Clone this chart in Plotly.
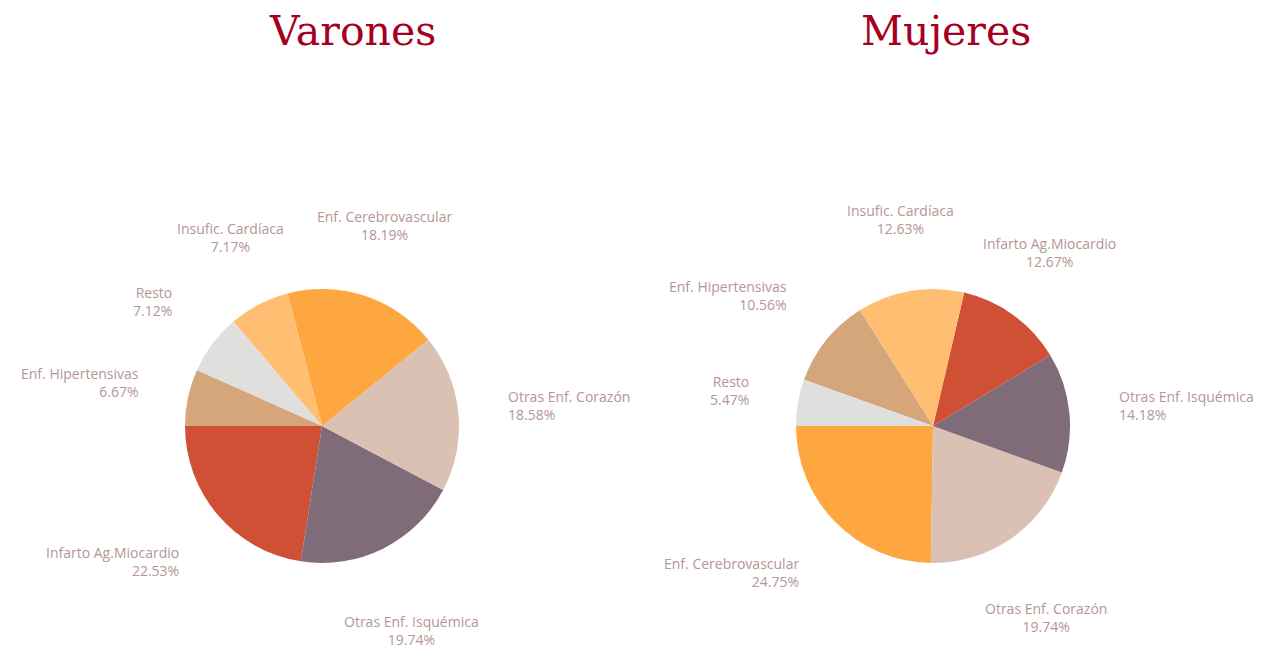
import math
import plotly.graph_objects as go

# ---- data ----
varones_labels = ["Infarto Ag.Miocardio", "Otras Enf. Isquémica", "Otras Enf. Corazón",
                  "Enf. Cerebrovascular", "Insufic. Cardíaca", "Resto", "Enf. Hipertensivas"]
varones_values = [22.53, 19.74, 18.58, 18.19, 7.17, 7.12, 6.67]

mujeres_labels = ["Enf. Cerebrovascular", "Otras Enf. Corazón", "Otras Enf. Isquémica",
                  "Infarto Ag.Miocardio", "Insufic. Cardíaca", "Enf. Hipertensivas", "Resto"]
mujeres_values = [24.75, 19.74, 14.18, 12.67, 12.63, 10.56, 5.47]

titles = ["Varones", "Mujeres"]

colors = {
    "Infarto Ag.Miocardio": "#CF5034",
    "Otras Enf. Isquémica": "#806B78",
    "Otras Enf. Corazón": "#DAC1B3",
    "Enf. Cerebrovascular": "#FEA741",
    "Insufic. Cardíaca": "#FFBE72",
    "Resto": "#DFE0DD",
    "Enf. Hipertensivas": "#D4A67A",
}

# page has an 8px body margin: the figure is shifted by 8px
OFF = 8
W, H = 1263 - OFF, 650 - OFF
LABEL_COLOR = "#B49693"
LABEL_FONT = dict(family="'Open Sans', sans-serif", size=14, color=LABEL_COLOR)
LABEL_H = 40  # two text lines

pies = [
    dict(cx=322, cy=426, r=137, labels=varones_labels, values=varones_values, title_x=352),
    dict(cx=933, cy=426, r=137, labels=mujeres_labels, values=mujeres_values, title_x=946),
]

fig = go.Figure()
annotations = []
for p, title in zip(pies, titles):
    cx, cy, r = p["cx"] - OFF, p["cy"] - OFF, p["r"]
    total = sum(p["values"])
    fig.add_trace(go.Pie(
        labels=p["labels"], values=p["values"], sort=False,
        direction="counterclockwise",
        # first slice begins at 9 o'clock and runs counterclockwise
        rotation=-90 - 360 * p["values"][0] / total,
        marker=dict(colors=[colors[l] for l in p["labels"]], line=dict(width=0)),
        textinfo="none", hoverinfo="label+percent",
        domain=dict(x=[(cx - r) / W, (cx + r) / W], y=[1 - (cy + r) / H, 1 - (cy - r) / H]),
        showlegend=False,
    ))
    cum = 0.0
    for lab, val in zip(p["labels"], p["values"]):
        mid = math.radians(180 + (cum + val / 2) / total * 360)
        cum += val
        c, s = math.cos(mid), math.sin(mid)
        if abs(c) >= 0.6:
            xa = al = ("left" if c > 0 else "right")
            ya = "middle"
            px = cx + 1.35 * r * c
            py = cy - 1.52 * r * s
        else:
            xa = al = "center"
            if s > 0:
                ya = "bottom"
                py = cy - 1.38 * r * s
            else:
                ya = "top"
                py = min(cy - 1.52 * r * s, H - LABEL_H)
            px = cx + 1.45 * r * c
        annotations.append(dict(
            x=px / W, y=1 - py / H, xref="paper", yref="paper",
            text=f"{lab}<br>{val:.2f}%", showarrow=False,
            xanchor=xa, yanchor=ya, align=al, font=LABEL_FONT,
        ))
    annotations.append(dict(
        x=(p["title_x"] - OFF) / W, y=1 - (31 - OFF) / H, xref="paper", yref="paper",
        text=title, showarrow=False, xanchor="center", yanchor="middle",
        font=dict(family="'DejaVu Serif', serif", size=41, color="#A50021"),
    ))

fig.update_layout(
    width=W, height=H, margin=dict(l=0, r=0, t=0, b=0),
    paper_bgcolor="white", plot_bgcolor="white",
    annotations=annotations,
)

fig.write_html("out.html")
